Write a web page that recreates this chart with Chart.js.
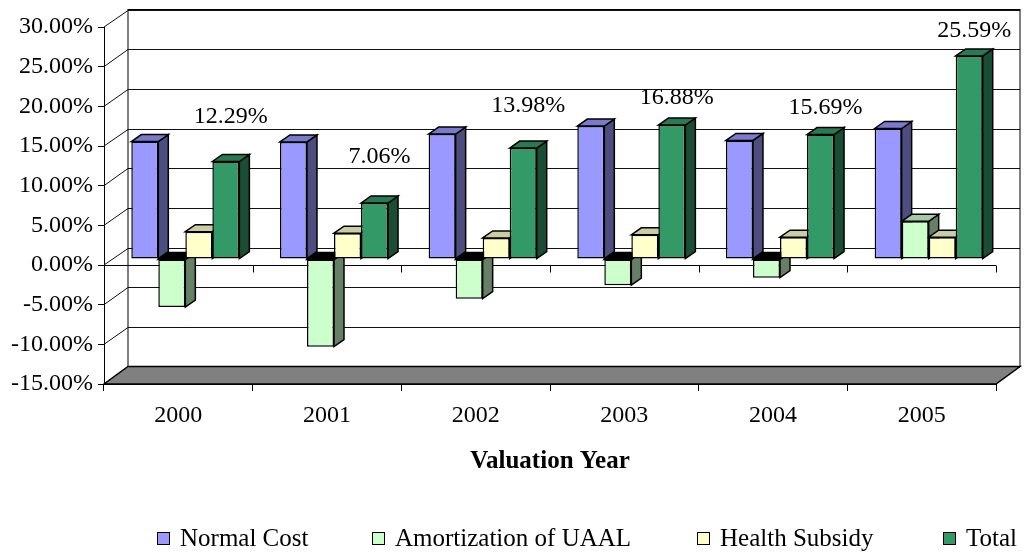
<!DOCTYPE html>
<html>
<head>
<meta charset="utf-8">
<title>Contribution Rates by Valuation Year</title>
<script src="https://cdn.jsdelivr.net/npm/chart.js@4.4.1/dist/chart.umd.min.js"></script>
<style>
  html, body { margin: 0; padding: 0; background: #fff; }
</style>
</head>
<body>
<canvas id="rateChart" width="1026" height="552"></canvas>
<script>
const years = ['2000', '2001', '2002', '2003', '2004', '2005'];
const normalCost = [14.80, 14.75, 15.75, 16.75, 14.95, 16.45];
const amortization = [-6.05, -11.05, -5.00, -3.30, -2.35, 4.75];
const healthSubsidy = [3.45, 3.25, 2.65, 3.05, 2.75, 2.75];
const totalRate = [12.29, 7.06, 13.98, 16.88, 15.69, 25.59];
const seriesNames = ['Normal Cost', 'Amortization of UAAL', 'Health Subsidy', 'Total'];
const yTicks = [-15, -10, -5, 0, 5, 10, 15, 20, 25, 30];

// styles
const seriesColors = ['#9999FF', '#CCFFCC', '#FFFFCC', '#339966'];
const labelLift = [45, 46, 42, 27, 27, 25]; // px above each Total bar
const legendX = [157, 372, 697, 943];
const FONT = "'Liberation Serif', 'Times New Roman', serif";
const WALL = { x: 24, y: -17.5 };  // back wall offset from front frame
const PLANE = { x: 7, y: -6 };     // bar row offset from front frame
const DEPTH = { x: 10, y: -7 };    // bar thickness

Chart.defaults.font.family = FONT;
Chart.defaults.font.size = 24;
Chart.defaults.color = '#000';

const shade = (hex, k) => {
  const n = parseInt(hex.slice(1), 16);
  const c = [n >> 16, (n >> 8) & 255, n & 255].map(v => Math.round(v * k));
  return `rgb(${c.join(',')})`;
};

const poly = (ctx, pts, fill) => {
  ctx.beginPath();
  pts.forEach(([px, py], i) => i ? ctx.lineTo(px, py) : ctx.moveTo(px, py));
  ctx.closePath();
  if (fill) { ctx.fillStyle = fill; ctx.fill(); }
  ctx.stroke();
};

const drawWalls = (chart) => {
  const { ctx, chartArea: a, scales: { x, y } } = chart;
  const bx = WALL.x, by = WALL.y;
  ctx.save();
  ctx.lineWidth = 1;
  ctx.fillStyle = '#fff';
  ctx.fillRect(a.left + bx, a.top + by, a.width, a.height);

  ctx.strokeStyle = '#111';
  yTicks.forEach(v => {
    const py = y.getPixelForValue(v);
    const back = Math.round(py + by) + 0.5;
    ctx.beginPath();
    ctx.moveTo(a.left, py);
    ctx.lineTo(a.left + bx, back);
    ctx.lineTo(a.right + bx, back);
    ctx.stroke();
  });
  ctx.strokeStyle = '#000';
  ctx.strokeRect(a.left + bx, a.top + by, a.width, a.height);

  // floor
  ctx.lineWidth = 1.5;
  poly(ctx, [[a.left, a.bottom], [a.right, a.bottom], [a.right + bx, a.bottom + by], [a.left + bx, a.bottom + by]], '#808080');

  // front zero line with category ticks
  const y0 = Math.round(y.getPixelForValue(0)) + 0.5;
  const step = x.getPixelForValue(1) - x.getPixelForValue(0);
  ctx.lineWidth = 1;
  ctx.beginPath();
  ctx.moveTo(a.left, y0);
  ctx.lineTo(a.right, y0);
  years.forEach((_, i) => {
    const px = Math.round(x.getPixelForValue(i) + step / 2) + 0.5;
    ctx.moveTo(px, y0);
    ctx.lineTo(px, y0 + 7);
  });
  ctx.stroke();
  ctx.restore();
};

const drawBarFaces = (chart) => {
  const ctx = chart.ctx;
  ctx.save();
  ctx.translate(PLANE.x, PLANE.y);
  ctx.lineWidth = 1.5;
  ctx.strokeStyle = '#000';
  ctx.lineJoin = 'miter';
  chart.data.datasets.forEach((ds, di) => {
    chart.getDatasetMeta(di).data.forEach(bar => {
      const l = bar.x - bar.width / 2, r = bar.x + bar.width / 2;
      const top = Math.min(bar.y, bar.base), bot = Math.max(bar.y, bar.base);
      const neg = bar.y > bar.base;
      poly(ctx, [[r, top], [r + DEPTH.x, top + DEPTH.y], [r + DEPTH.x, bot + DEPTH.y], [r, bot]], shade(ds.backgroundColor, 0.5));
      poly(ctx, [[l, top], [l + DEPTH.x, top + DEPTH.y], [r + DEPTH.x, top + DEPTH.y], [r, top]], neg ? '#000' : shade(ds.backgroundColor, 0.8));
    });
  });
  ctx.restore();
};

const threeD = {
  id: 'threeD',
  beforeDatasetsDraw(chart) {
    drawWalls(chart);
    drawBarFaces(chart);
    chart.ctx.save();
    chart.ctx.translate(PLANE.x, PLANE.y);
  },
  afterDatasetsDraw(chart) {
    const ctx = chart.ctx;
    ctx.restore();
    // labels on Total
    ctx.save();
    ctx.font = `24px ${FONT}`;
    ctx.fillStyle = '#000';
    ctx.textAlign = 'center';
    ctx.textBaseline = 'middle';
    chart.getDatasetMeta(3).data.forEach((bar, i) => {
      ctx.fillText(totalRate[i].toFixed(2) + '%', bar.x + PLANE.x + 5, bar.y + PLANE.y - labelLift[i]);
    });
    ctx.restore();
  },
  afterDraw(chart) {
    const ctx = chart.ctx;
    ctx.save();
    ctx.font = `25px ${FONT}`;
    ctx.textBaseline = 'middle';
    ctx.lineWidth = 1;
    ctx.strokeStyle = '#000';
    chart.data.datasets.forEach((ds, i) => {
      ctx.fillStyle = ds.backgroundColor;
      ctx.fillRect(legendX[i], 532, 13, 13);
      ctx.strokeRect(legendX[i] + 0.5, 532.5, 12, 12);
      ctx.fillStyle = '#000';
      ctx.fillText(ds.label, legendX[i] + 23, 539);
    });
    ctx.restore();
  }
};

const seriesData = [normalCost, amortization, healthSubsidy, totalRate];

new Chart(document.getElementById('rateChart'), {
  type: 'bar',
  data: {
    labels: years,
    datasets: seriesData.map((data, i) => ({
      label: seriesNames[i],
      data,
      backgroundColor: seriesColors[i],
      borderColor: '#000',
      borderWidth: 1.5,
      borderSkipped: false,
      categoryPercentage: 0.727,
      barPercentage: 1
    }))
  },
  options: {
    responsive: false,
    animation: false,
    layout: { padding: { top: 27, right: 30, left: 0, bottom: 0 } },
    plugins: {
      legend: { display: false },
      tooltip: { enabled: false }
    },
    scales: {
      x: {
        grid: { drawOnChartArea: false, color: '#000', tickLength: 7 },
        border: { color: '#000' },
        ticks: { padding: 10, maxRotation: 0 },
        title: {
          display: true,
          text: 'Valuation Year',
          font: { size: 25, weight: 'bold' },
          padding: { top: 0, bottom: 75 }
        },
        afterFit: s => { s.height = 168; }
      },
      y: {
        min: -15,
        max: 30,
        ticks: { stepSize: 5, padding: 5, callback: v => v.toFixed(2) + '%' },
        grid: { drawOnChartArea: false, color: '#000', tickLength: 6 },
        border: { color: '#000' },
        afterFit: s => { s.width = 104; }
      }
    }
  },
  plugins: [threeD]
});
</script>
</body>
</html>
